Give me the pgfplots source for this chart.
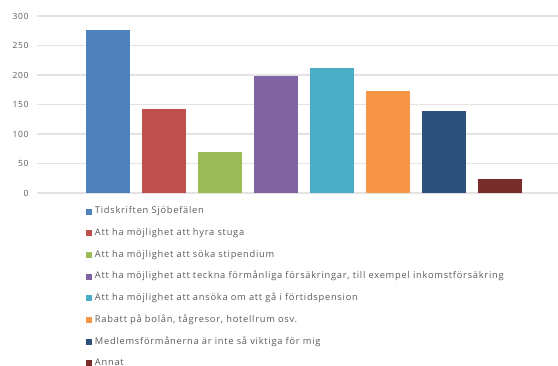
\documentclass[border=0pt]{standalone}
\usepackage{fontspec}
\setmainfont{Open Sans}[LetterSpace=8]
\usepackage{pgfplots}
\pgfplotsset{compat=1.18}
\definecolor{c1}{HTML}{4F81BD}
\definecolor{c2}{HTML}{C0504D}
\definecolor{c3}{HTML}{9BBB59}
\definecolor{c4}{HTML}{8064A2}
\definecolor{c5}{HTML}{4BACC6}
\definecolor{c6}{HTML}{F79646}
\definecolor{c7}{HTML}{2C5079}
\definecolor{c8}{HTML}{772C2A}
\definecolor{gridc}{HTML}{E3E3E3}
\definecolor{txt}{HTML}{595959}
\begin{document}
\begin{tikzpicture}[x=1pt,y=1pt]
\useasboundingbox (0,0) rectangle (558,366);
\begin{axis}[
  at={(37pt,173pt)}, anchor=south west,
  scale only axis, width=521pt, height=177pt,
  ybar, bar width=44pt, bar shift=0pt,
  xmin=-1.27, xmax=8.04,
  ymin=0, ymax=300, ytick={0,50,...,300},
  xtick=\empty,
  axis line style={draw=none},
  ymajorgrids, grid style={gridc, line width=1.2pt},
  major tick length=0pt,
  yticklabel style={font=\fontsize{8.5}{9}\selectfont, text=txt, xshift=-5pt},
  /pgf/number format/assume math mode=true,
  legend cell align=left,
  legend style={at={(axis description cs:0.094,-0.081)}, anchor=north west, draw=none,
    fill=none, inner sep=0pt, outer sep=0pt,
    font=\fontsize{9.3}{10}\selectfont, text=txt, row sep=13.2pt,
    nodes={inner sep=0pt, text height=6.5pt, text depth=2pt},
    /tikz/every even column/.append style={column sep=0pt}},
  legend image code/.code={\fill[#1] (0pt,-3pt) rectangle (6pt,3pt); \path (9pt,0pt);},
]
\addplot[fill=c1, draw=none] coordinates {(0,276)};
\addplot[fill=c2, draw=none] coordinates {(1,142)};
\addplot[fill=c3, draw=none] coordinates {(2,69)};
\addplot[fill=c4, draw=none] coordinates {(3,198)};
\addplot[fill=c5, draw=none] coordinates {(4,212)};
\addplot[fill=c6, draw=none] coordinates {(5,173)};
\addplot[fill=c7, draw=none] coordinates {(6,139)};
\addplot[fill=c8, draw=none] coordinates {(7,24)};
\legend{Tidskriften Sjöbefälen,
Att ha möjlighet att hyra stuga,
Att ha möjlighet att söka stipendium,
{Att ha möjlighet att teckna förmånliga försäkringar, till exempel inkomstförsäkring},
Att ha möjlighet att ansöka om att gå i förtidspension,
{Rabatt på bolån, tågresor, hotellrum osv.},
Medlemsförmånerna är inte så viktiga för mig,
Annat}
\end{axis}
\end{tikzpicture}
\end{document}
